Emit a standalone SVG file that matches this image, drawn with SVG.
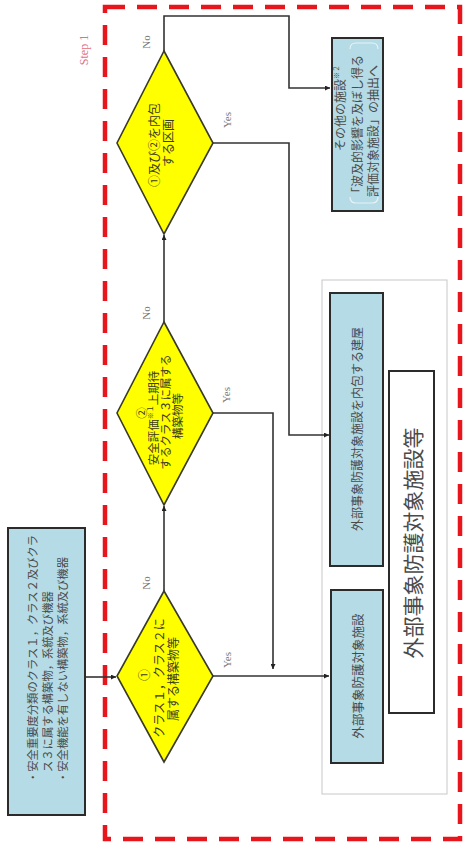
<svg xmlns="http://www.w3.org/2000/svg" width="465" height="854" viewBox="0 0 465 854">
<style>
.box{fill:#b4dbe6;stroke:#2b2b2b;stroke-width:2}
.wbox{fill:#ffffff;stroke:#2b2b2b;stroke-width:2}
.dia{fill:#ffff00;stroke:#3a3a2a;stroke-width:1.6}
.con{fill:none;stroke:#333;stroke-width:1.6}
.jp{font-family:"Noto Sans CJK JP","Noto Sans",sans-serif;fill:#4a4a4a;dominant-baseline:central}
.dj{font-family:"Noto Sans CJK JP","Noto Sans",sans-serif;fill:#3a3a20;dominant-baseline:central}
.lbl{font-family:"Liberation Serif",serif;font-size:11px;fill:#777;dominant-baseline:central;text-anchor:middle}
</style>
<defs>
<marker id="ah" viewBox="0 0 10 10" refX="10" refY="5" markerWidth="5" markerHeight="5" orient="auto" markerUnits="userSpaceOnUse">
<path d="M0,0 L10,5 L0,10 z" fill="#222"/>
</marker>
</defs>

<!-- Step 1 frame -->
<g id="step1">
<rect x="105" y="7" width="355" height="832" fill="none" stroke="#e8161c" stroke-width="4.5" stroke-dasharray="20 12"/>
<text transform="translate(84,50) rotate(-90)" font-family="Liberation Serif, serif" font-size="12" fill="#e07080" text-anchor="middle" dominant-baseline="central">Step 1</text>
</g>

<!-- group frame -->
<g id="group">
<rect x="322" y="280" width="125" height="514" fill="none" stroke="#c8c8c8" stroke-width="1"/>
</g>

<g id="connectors">
<path class="con" d="M85,677 L116,677" marker-end="url(#ah)"/>
<path class="con" d="M164,591 L164,506" marker-end="url(#ah)"/>
<path class="con" d="M164,322 L164,235" marker-end="url(#ah)"/>
<path class="con" d="M164,51 L164,16 L289,16 L289,88 L330,88" marker-end="url(#ah)"/>
<path class="con" d="M213,143 L289,143 L289,435 L329,435" marker-end="url(#ah)"/>
<path class="con" d="M213,413 L273,413 L273,669" marker-end="url(#ah)"/>
<path class="con" d="M213,676 L329,676" marker-end="url(#ah)"/>
<text class="lbl" transform="translate(146,583) rotate(-90)">No</text>
<text class="lbl" transform="translate(146,313) rotate(-90)">No</text>
<text class="lbl" transform="translate(146,42) rotate(-90)">No</text>
<text class="lbl" transform="translate(227,660) rotate(-90)">Yes</text>
<text class="lbl" transform="translate(226,395) rotate(-90)">Yes</text>
<text class="lbl" transform="translate(227,120) rotate(-90)">Yes</text>
</g>

<g id="input">
<rect class="box" x="8" y="528" width="77" height="287"/>
<text class="jp" font-size="11.3" transform="translate(32,783) rotate(-90)">・安全重要度分類のクラス１，クラス２及びクラ</text>
<text class="jp" font-size="11.3" transform="translate(47,772) rotate(-90)">ス３に属する構築物，系統及び機器</text>
<text class="jp" font-size="11.3" transform="translate(62,783) rotate(-90)">・安全機能を有しない構築物，系統及び機器</text>
</g>

<g id="d1">
<polygon class="dia" points="164,591 213,676 164,762 117,676"/>
<text class="dj" font-size="12" text-anchor="middle" transform="translate(143,675) rotate(-90)">①</text>
<text class="dj" font-size="12" text-anchor="middle" transform="translate(158,678) rotate(-90)">クラス１，クラス２に</text>
<text class="dj" font-size="12" text-anchor="middle" transform="translate(172,679) rotate(-90)">属する構築物等</text>
</g>

<g id="d2">
<polygon class="dia" points="164,322 213,413 164,505 117,413"/>
<text class="dj" font-size="11.5" text-anchor="middle" transform="translate(141,413) rotate(-90)">②</text>
<text class="dj" font-size="11.5" text-anchor="middle" transform="translate(153,418) rotate(-90)">安全評価<tspan font-size="7" dy="-3">※１</tspan><tspan dy="3">上期待</tspan></text>
<text class="dj" font-size="11.5" text-anchor="middle" transform="translate(165,412) rotate(-90)">するクラス３に属する</text>
<text class="dj" font-size="11.5" text-anchor="middle" transform="translate(177,416) rotate(-90)">構築物等</text>
</g>

<g id="d3">
<polygon class="dia" points="164,51 213,143 164,234 117,143"/>
<text class="dj" font-size="12" text-anchor="middle" transform="translate(153,145) rotate(-90)">①及び②を内包</text>
<text class="dj" font-size="12" text-anchor="middle" transform="translate(167,143) rotate(-90)">する区画</text>
</g>

<g id="other">
<rect class="box" x="332" y="38" width="51" height="173"/>
<path d="M350,49 Q350,43 356,43 L372,43 Q378,43 378,49 M350,197 Q350,203 356,203 L372,203 Q378,203 378,197" fill="none" stroke="#e8f2f5" stroke-width="1.2"/>
<text class="jp" font-size="12" text-anchor="middle" transform="translate(339,108) rotate(-90)">その他の施設<tspan font-size="7" dy="-3">※２</tspan></text>
<text class="jp" font-size="12" text-anchor="middle" transform="translate(356,127) rotate(-90)">「波及的影響を及ぼし得る</text>
<text class="jp" font-size="12" text-anchor="middle" transform="translate(372,131) rotate(-90)">評価対象施設」の抽出へ</text>
</g>

<g id="building">
<rect class="box" x="330" y="293" width="53" height="273"/>
<text class="jp" font-size="12" text-anchor="middle" transform="translate(356,429) rotate(-90)">外部事象防護対象施設を内包する建屋</text>
</g>

<g id="facility">
<rect class="box" x="331" y="590" width="52" height="173"/>
<text class="jp" font-size="12.5" text-anchor="middle" transform="translate(357,676) rotate(-90)">外部事象防護対象施設</text>
</g>

<g id="title">
<rect class="wbox" x="389" y="371" width="45" height="342"/>
<text class="jp" font-size="21" text-anchor="middle" fill="#555" transform="translate(412,543) rotate(-90)">外部事象防護対象施設等</text>
</g>
</svg>
